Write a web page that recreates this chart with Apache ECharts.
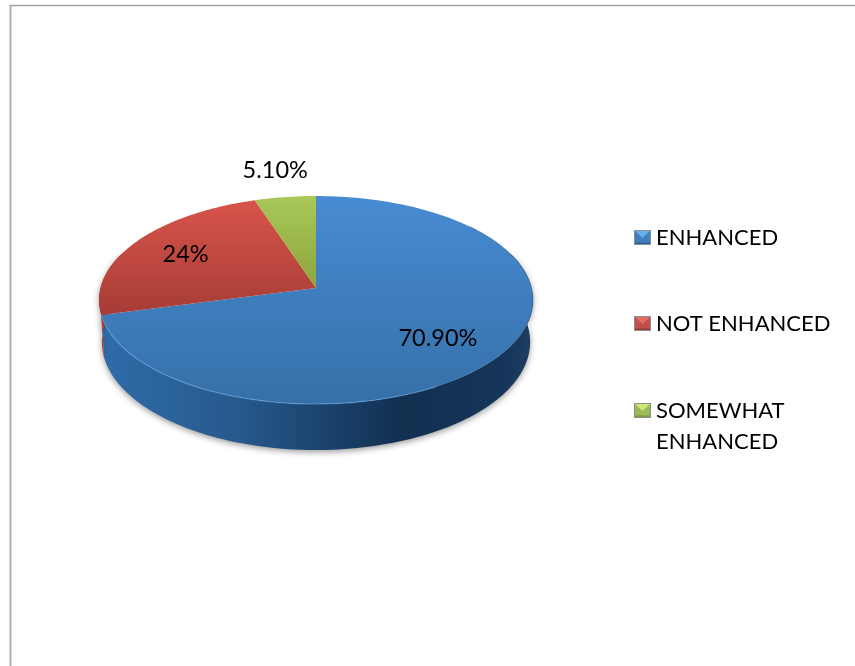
<!DOCTYPE html>
<html>
<head>
<meta charset="utf-8">
<title>Pie chart</title>
<style>html,body{margin:0;padding:0;background:#fff}#chart{width:855px;height:666px}</style>
<script src="https://cdn.jsdelivr.net/npm/echarts@6/dist/echarts.min.js"></script>
</head>
<body>
<div id="chart"></div>
<script>
// Shares of respondents, in percent
var categories = ['ENHANCED', 'NOT ENHANCED', 'SOMEWHAT ENHANCED'];
var values = [70.9, 24, 5.1];
var valueLabels = ['70.90%', '24%', '5.10%'];

// Face, wall and legend-marker colours per slice
var faceStops = [['#478bd2', '#3670a8'], ['#d7544b', '#a63c36'], ['#a9c858', '#8da53e']];
var wallStops = [
  [[0, '#2f6ca8'], [0.32, '#27598d'], [0.5, '#1b4570'], [0.7, '#123050'], [0.93, '#15355a'], [1, '#1d3f62']],
  [[0, '#b03f3a'], [1, '#8a2f2c']],
  [[0, '#8da53e'], [1, '#71862f']]
];
var markerShades = [
  ['#62b0ee', '#3f7fbc', '#2f6498'],
  ['#e86c62', '#c0504d', '#9a3a38'],
  ['#cfe678', '#9bbb59', '#7a9a3c']
];

// Perspective disc: a unit circle projected so the apex sits above the ellipse centre
var disc = { cx: 316, apexY: 288, rx: 215.5, ry: 102.6, tilt: 0.1154, depthY: 41.4, floorX: 0.987, floorY: 1.04 };
var labelFont = 'Lato, "Open Sans", sans-serif';
var labelSize = 23.5;
var legendSize = 22;
var labelRadius = [0.68, 0.715, 1.37];
var labelShiftY = [6, 0, 2];

function project(deg, r, floor) {
  var t = deg * Math.PI / 180;
  var u = Math.sin(t) * r, v = -Math.cos(t) * r;
  var den = 1 - disc.tilt * v;
  return [
    disc.cx + disc.rx * (floor ? disc.floorX : 1) * u / den,
    disc.apexY + (floor ? disc.depthY : 0) + disc.ry * (floor ? disc.floorY : 1) * v / den
  ];
}

function arc(from, to, floor) {
  var pts = [];
  var steps = Math.max(2, Math.ceil(Math.abs(to - from) / 1.5));
  for (var i = 0; i <= steps; i++) pts.push(project(from + (to - from) * i / steps, 1, floor));
  return pts;
}

var total = values.reduce(function (a, b) { return a + b; }, 0);

function sliceItem(index) {
  return function (params, api) {
    var before = values.slice(0, index).reduce(function (a, b) { return a + b; }, 0);
    var start = before / total * 360;
    var end = start + api.value(0) / total * 360;
    var mid = (start + end) / 2;
    var children = [];

    // Side wall, only on the front part of the rim
    var wallFrom = Math.max(start, 70), wallTo = Math.min(end, 290);
    if (wallTo > wallFrom) {
      var wall = arc(wallFrom, wallTo, false).concat(arc(wallTo, wallFrom, true));
      children.push({
        type: 'polygon', z2: 1, shape: { points: wall },
        style: {
          fill: { type: 'linear', x: 0, y: 0, x2: 1, y2: 0, colorStops: wallStops[index].map(function (s) { return { offset: s[0], color: s[1] }; }) },
          shadowBlur: 6, shadowColor: 'rgba(0,0,0,0.4)', shadowOffsetY: 2
        }
      });
    }

    // Top face
    children.push({
      type: 'polygon', z2: 2,
      shape: { points: [project(0, 0)].concat(arc(start, end, false)) },
      style: { fill: { type: 'linear', x: 0, y: 0, x2: 0, y2: 1, colorStops: [{ offset: 0, color: faceStops[index][0] }, { offset: 1, color: faceStops[index][1] }] } }
    });

    // Rim bevel on the large slice
    if (index === 0) {
      children.push({
        type: 'polyline', z2: 3, shape: { points: arc(150, end, false) },
        style: { fill: 'none', stroke: 'rgba(110,170,230,0.55)', lineWidth: 1.2 }
      });
      children.push({
        type: 'polyline', z2: 3, shape: { points: arc(50, 115, false) },
        style: { fill: 'none', stroke: 'rgba(30,70,115,0.3)', lineWidth: 1.2 }
      });
    }

    var at = project(mid, labelRadius[index]);
    children.push({
      type: 'text', z2: 5, x: at[0], y: at[1] + labelShiftY[index],
      style: { text: valueLabels[index], fill: '#000', font: labelSize + 'px ' + labelFont, align: 'center', verticalAlign: 'middle' }
    });
    return { type: 'group', children: children };
  };
}

function markerIcon(shades) {
  var svg = '<svg xmlns="http://www.w3.org/2000/svg" width="17" height="15" viewBox="0 0 17 15">' +
    '<rect width="17" height="15" fill="' + shades[1] + '"/>' +
    '<polygon points="1,1 16,1 8.5,8" fill="' + shades[0] + '"/>' +
    '<rect x="1" y="12.5" width="15" height="1.5" fill="' + shades[2] + '"/>' +
    '<rect x="0.5" y="0.5" width="16" height="14" fill="none" stroke="#8a8f94" stroke-width="1"/></svg>';
  return 'image://data:image/svg+xml;charset=utf-8,' + encodeURIComponent(svg);
}

var legendTops = [222, 308, 364];
var legends = categories.map(function (name, i) {
  return {
    show: true, orient: 'vertical', left: 634, top: legendTops[i], padding: 0, selectedMode: false,
    itemWidth: 17, itemHeight: 15,
    data: [{ name: name, icon: markerIcon(markerShades[i]) }],
    textStyle: { fontFamily: labelFont, fontSize: legendSize, color: '#000', lineHeight: 31 },
    formatter: function (n) { return n === 'SOMEWHAT ENHANCED' ? ' \nSOMEWHAT\nENHANCED' : n; }
  };
});

var chart = echarts.init(document.getElementById('chart'), null, { renderer: 'canvas' });
chart.setOption({
  animation: false,
  backgroundColor: '#ffffff',
  legend: legends,
  graphic: [
    { type: 'line', silent: true, shape: { x1: 10, y1: 5.5, x2: 855, y2: 5.5 }, style: { stroke: '#a3a3a3', lineWidth: 1.6 } },
    { type: 'line', silent: true, shape: { x1: 10.5, y1: 5, x2: 10.5, y2: 666 }, style: { stroke: '#b0b0b0', lineWidth: 2 } }
  ],
  series: categories.map(function (name, i) {
    return {
      type: 'custom', name: name, coordinateSystem: 'none',
      data: [[values[i]]], renderItem: sliceItem(i), silent: true,
      itemStyle: { color: markerShades[i][1] }
    };
  })
});
</script>
</body>
</html>
